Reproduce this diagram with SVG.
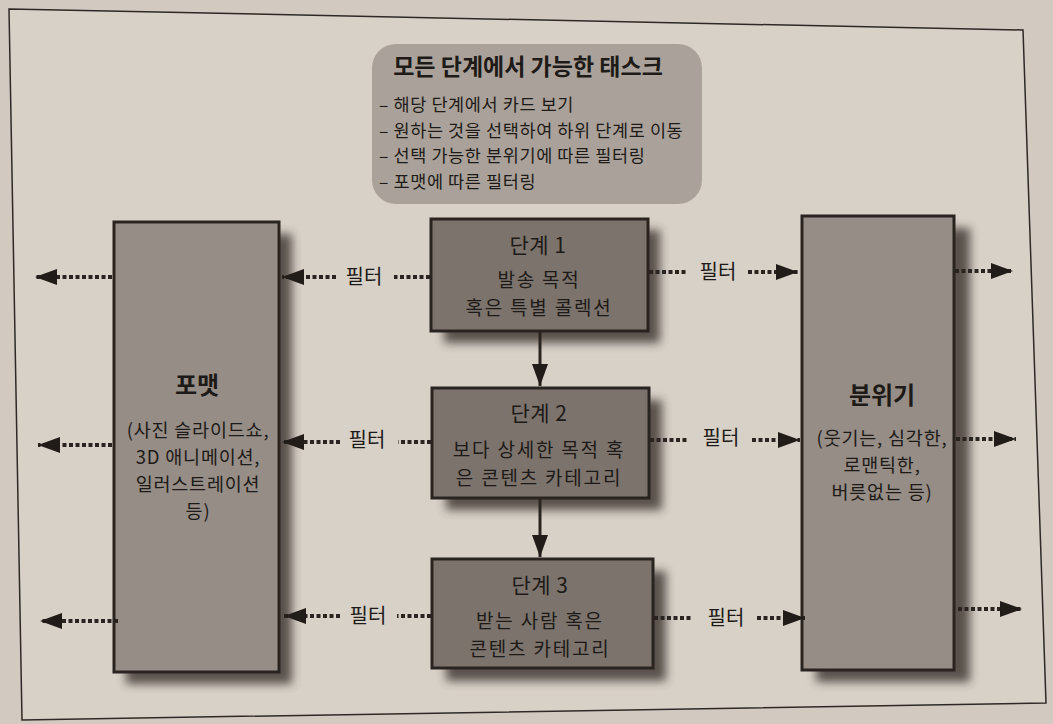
<svg xmlns="http://www.w3.org/2000/svg" width="1053" height="724" viewBox="0 0 1053 724">
<style>
text{font-family:"Noto Sans CJK KR","Noto Sans",sans-serif;fill:#1e1a17;text-anchor:middle}
.t{font-size:19px;letter-spacing:1.8px}
.h{font-size:21px;letter-spacing:0.5px}
.b{font-weight:bold}
.s{font-size:18.5px;letter-spacing:0.8px}
.l{text-anchor:start;font-size:17.5px;letter-spacing:0.6px}
.box{fill:#7b736c;stroke:#2a2421;stroke-width:3}
.side{fill:#958d86;stroke:#2a2421;stroke-width:3}
.dot{stroke:#2a2421;stroke-width:4;stroke-dasharray:4 2.5;fill:none}
.sol{stroke:#2a2421;stroke-width:3;fill:none}
.lbl{font-size:20px}
</style>
<defs>
<filter id="sh" x="-20%" y="-20%" width="150%" height="150%"><feGaussianBlur stdDeviation="5"/></filter>
<marker id="ah" markerUnits="userSpaceOnUse" markerWidth="24" markerHeight="18" refX="22" refY="9" orient="auto"><path d="M0,1 L22,9 L0,17 Z" fill="#221c19"/></marker>
</defs>
<rect width="1053" height="724" fill="#d2cac1"/>
<path d="M9,9 L1023,30 L1046,703 Q600,712 22,720 Z" fill="#d8d1c8" stroke="#2e2926" stroke-width="1.5"/>
<g id="top-box">
<rect x="372" y="44" width="330" height="160" rx="24" fill="#aaa29a"/>
<text x="528" y="75" class="b" style="font-size:23px">모든 단계에서 가능한 태스크</text>
<text class="l"><tspan x="379" y="111">– 해당 단계에서 카드 보기</tspan><tspan x="379" y="136.5">– 원하는 것을 선택하여 하위 단계로 이동</tspan><tspan x="379" y="162">– 선택 가능한 분위기에 따른 필터링</tspan><tspan x="379" y="187.5">– 포맷에 따른 필터링</tspan></text>
</g>
<g id="shadows" filter="url(#sh)" fill="#3a332e" opacity="0.8">
<rect x="126" y="234" width="166" height="450"/>
<rect x="444" y="230" width="216" height="113"/>
<rect x="446" y="400" width="216" height="110"/>
<rect x="446" y="571" width="220" height="110"/>
<rect x="816" y="228" width="154" height="454"/>
</g>
<g id="format">
<rect x="114" y="222" width="165" height="450" class="side"/>
<text x="197" y="394" class="b" style="font-size:24px">포맷</text>
<text class="s"><tspan x="198" y="437">(사진 슬라이드쇼,</tspan><tspan x="198" y="464">3D 애니메이션,</tspan><tspan x="198" y="491">일러스트레이션</tspan><tspan x="198" y="518">등)</tspan></text>
</g>
<g id="mood">
<rect x="802" y="216" width="152" height="454" class="side"/>
<text x="882" y="404" class="b" style="font-size:24px">분위기</text>
<text class="s"><tspan x="882" y="445">(웃기는, 심각한,</tspan><tspan x="882" y="472">로맨틱한,</tspan><tspan x="882" y="499">버릇없는 등)</tspan></text>
</g>
<g id="stage1">
<rect x="431" y="219" width="217" height="112" class="box"/>
<text x="538" y="253" class="h">단계 1</text>
<text class="t"><tspan x="539" y="287">발송 목적</tspan><tspan x="539" y="315">혹은 특별 콜렉션</tspan></text>
</g>
<g id="stage2">
<rect x="432" y="388" width="217" height="110" class="box"/>
<text x="539" y="421" class="h">단계 2</text>
<text class="t"><tspan x="539" y="457">보다 상세한 목적 혹</tspan><tspan x="539" y="485">은 콘텐츠 카테고리</tspan></text>
</g>
<g id="stage3">
<rect x="432" y="559" width="221" height="109" class="box"/>
<text x="540" y="593" class="h">단계 3</text>
<text class="t"><tspan x="540" y="628">받는 사람 혹은</tspan><tspan x="540" y="656">콘텐츠 카테고리</tspan></text>
</g>
<g id="connectors">
<line x1="540" y1="332" x2="540" y2="386" class="sol" marker-end="url(#ah)"/>
<line x1="540" y1="499" x2="540" y2="557" class="sol" marker-end="url(#ah)"/>
<!-- row 1 -->
<line x1="112" y1="277" x2="35" y2="277" class="dot" marker-end="url(#ah)"/>
<line x1="430" y1="277" x2="394" y2="277" class="dot"/>
<line x1="336" y1="277" x2="282" y2="277" class="dot" marker-end="url(#ah)"/>
<line x1="649" y1="272" x2="686" y2="272" class="dot"/>
<line x1="748" y1="272" x2="798" y2="272" class="dot" marker-end="url(#ah)"/>
<line x1="955" y1="271" x2="1013" y2="271" class="dot" marker-end="url(#ah)"/>
<!-- row 2 -->
<line x1="112" y1="445" x2="38" y2="445" class="dot" marker-end="url(#ah)"/>
<line x1="431" y1="442" x2="398" y2="442" class="dot"/>
<line x1="340" y1="442" x2="282" y2="442" class="dot" marker-end="url(#ah)"/>
<line x1="650" y1="440" x2="688" y2="440" class="dot"/>
<line x1="752" y1="440" x2="800" y2="440" class="dot" marker-end="url(#ah)"/>
<line x1="956" y1="439" x2="1016" y2="439" class="dot" marker-end="url(#ah)"/>
<!-- row 3 -->
<line x1="118" y1="621" x2="40" y2="621" class="dot" marker-end="url(#ah)"/>
<line x1="431" y1="616" x2="397" y2="616" class="dot"/>
<line x1="340" y1="616" x2="284" y2="616" class="dot" marker-end="url(#ah)"/>
<line x1="654" y1="618" x2="693" y2="618" class="dot"/>
<line x1="757" y1="618" x2="805" y2="618" class="dot" marker-end="url(#ah)"/>
<line x1="958" y1="609" x2="1022" y2="609" class="dot" marker-end="url(#ah)"/>
<text x="364" y="284" class="lbl">필터</text>
<text x="718" y="279" class="lbl">필터</text>
<text x="367" y="447" class="lbl">필터</text>
<text x="721" y="445" class="lbl">필터</text>
<text x="368" y="623" class="lbl">필터</text>
<text x="726" y="625" class="lbl">필터</text>
</g>
</svg>
